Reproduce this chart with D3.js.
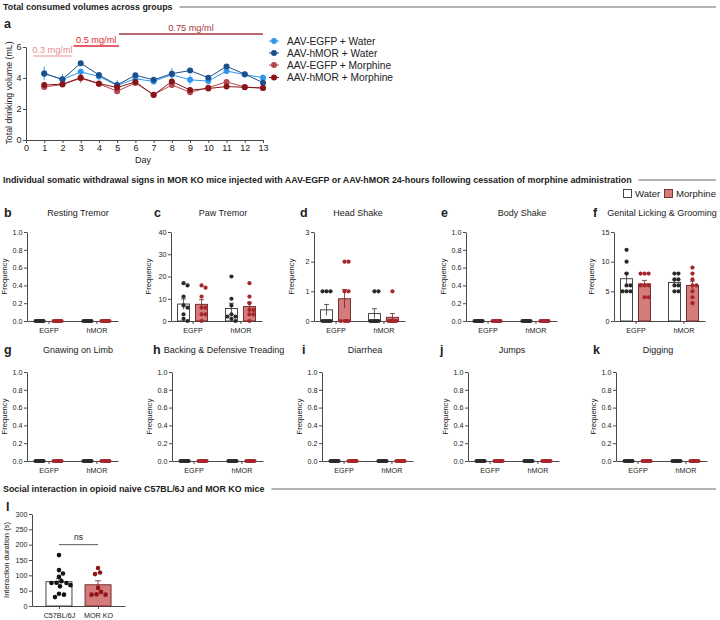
<!DOCTYPE html>
<html><head><meta charset="utf-8">
<script src="https://cdn.jsdelivr.net/npm/d3@7"></script>
<style>body{margin:0;background:#fff}svg{display:block}text{font-family:"Liberation Sans",Arial,sans-serif;fill:#222}</style>
</head><body><svg id="c" width="720" height="620"></svg>
<script>
// ---------- Panel a data ----------
const days = [1,2,3,4,5,6,7,8,9,10,11,12,13];
const dayTicks = [0,1,2,3,4,5,6,7,8,9,10,11,12,13];
const volTicks = [0,2,4,6];
const seriesNames = ["AAV-EGFP + Water","AAV-hMOR + Water","AAV-EGFP + Morphine","AAV-hMOR + Morphine"];
const seriesColors = ["#2f97f0","#1c4f8c","#b44a50","#8a1518"];
const egfpWater     = [4.30,3.90,4.40,4.10,3.52,3.95,3.78,4.22,3.88,3.80,4.45,4.22,4.02];
const egfpWaterSem  = [0.45,0.35,0.20,0.20,0.35,0.15,0.12,0.45,0.30,0.15,0.20,0.15,0.20];
const hmorWater     = [4.28,3.92,4.95,4.20,3.55,4.18,3.88,4.28,4.48,4.02,4.75,4.25,3.70];
const hmorWaterSem  = [0.20,0.20,0.15,0.15,0.20,0.10,0.10,0.20,0.15,0.10,0.15,0.12,0.12];
const egfpMorph     = [3.42,3.58,3.98,3.62,3.15,3.68,2.92,3.55,3.08,3.38,3.75,3.42,3.35];
const egfpMorphSem  = [0.15,0.10,0.30,0.10,0.10,0.10,0.12,0.15,0.12,0.10,0.10,0.10,0.08];
const hmorMorph     = [3.55,3.60,4.02,3.65,3.38,3.75,2.90,3.78,3.22,3.32,3.45,3.40,3.35];
const hmorMorphSem  = [0.20,0.10,0.20,0.10,0.10,0.10,0.15,0.12,0.12,0.10,0.10,0.10,0.08];
const doseLabels = ["0.3 mg/ml","0.5 mg/ml","0.75 mg/ml"];
const doseStart  = [0.4,2.6,5.1];
const doseEnd    = [2.5,5.1,13];
const doseColors = ["#e38e8e","#dc2a33","#a8363c"];
const doseLineColors = ["#f0b4b4","#dc2a33","#a8363c"];

// ---------- Withdrawal signs data ----------
const signTitles = ["Resting Tremor","Paw Tremor","Head Shake","Body Shake","Genital Licking & Grooming",
                    "Gnawing on Limb","Backing & Defensive Treading","Diarrhea","Jumps","Digging"];
const signLetters = ["b","c","d","e","f","g","h","i","j","k"];
const signYMax = [1,40,3,1,15,1,1,1,1,1];
const signTickStep = [0.2,10,1,0.2,5,0.2,0.2,0.2,0.2,0.2];
const groups = ["EGFP","hMOR"];
const treatments = ["Water","Morphine"];
const zeros8 = [0,0,0,0,0,0,0,0];
const pawEgfpWater = [16,17,11,7,6,3,0,1];
const pawEgfpMorph = [15,16,11,6,6,3,0,3];
const pawHmorWater = [20,10,7,3,2,0,2,1];
const pawHmorMorph = [17,11,8,5,5,3,3,0];
const headEgfpWater = [1,1,1,0,0,0,0,0];
const headEgfpMorph = [2,2,1,1,0,0,0,0];
const headHmorWater = [1,1,0,0,0,0,0,0];
const headHmorMorph = [1,0,0,0,0,0,0,0];
const genEgfpWater = [12,10,8,6,6,5,5,5];
const genEgfpMorph = [8,8,8,6,6,6,4,4];
const genHmorWater = [8,8,7,7,6,6,5,5];
const genHmorMorph = [9,8,7,6,6,5,4,3];

// ---------- Social interaction data ----------
const socialGroups = ["C57BL/6J","MOR KO"];
const socialC57 = [166,95,106,117,76,64,75,81,75,40,37,29,68];
const socialMorKO = [124,109,104,59,46,37,37,38];
const socialTicks = [0,50,100,150,200,250,300];

// ---------- helpers ----------
const svg = d3.select("#c");
const AX = "#4a4a4a";
function styleAxis(g, fs){
  g.selectAll("path.domain").attr("stroke",AX).attr("stroke-width",1);
  g.selectAll(".tick line").attr("stroke",AX).attr("stroke-width",1);
  g.selectAll(".tick text").attr("font-size",fs).attr("fill","#333").attr("font-family","Liberation Sans, Arial, sans-serif");
}
function sectionTitle(text, y){
  const t = svg.append("text").attr("x",3).attr("y",y+3).attr("font-weight","bold").attr("font-size",8.9).text(text);
  const w = t.node().getComputedTextLength();
  svg.append("line").attr("x1",3+w+7).attr("x2",716).attr("y1",y).attr("y2",y).attr("stroke","#555").attr("stroke-width",0.9);
}
function letter(l, x, y){
  svg.append("text").attr("x",x).attr("y",y).attr("font-weight","bold").attr("font-size",12.5).text(l);
}
function swarm(values, yScale, r, halfW){
  const order = values.map((v,i)=>i).sort((a,b)=>values[b]-values[a]);
  const placed = [], out = new Array(values.length);
  const cands = [];
  for(let o=0;o<=halfW+1e-9;o+=0.5){cands.push(o); if(o>0) cands.push(-o);}
  order.forEach(i=>{
    const py = yScale(values[i]);
    let pick = null, best=-1, bestO=0;
    for(const o of cands){
      let md = Infinity;
      for(const p of placed){const d=Math.hypot(p.x-o,p.y-py); if(d<md) md=d;}
      if(md>=2*r+0.3){pick=o;break;}
      if(md>best){best=md;bestO=o;}
    }
    if(pick===null) pick=bestO;
    placed.push({x:pick,y:py}); out[i]=pick;
  });
  return out;
}
function mean(a){return d3.mean(a);}
function sem(a){return a.length>1? d3.deviation(a)/Math.sqrt(a.length):0;}

// ---------- Section 1 ----------
sectionTitle("Total consumed volumes across groups", 7);
letter("a", 4, 28);
const ax = d3.scaleLinear().domain([0,13]).range([26,263]);
const ay = d3.scaleLinear().domain([0,6]).range([140,47]);
const gA = svg.append("g");
const gx = gA.append("g").attr("transform","translate(0,140)")
  .call(d3.axisBottom(ax).tickValues(dayTicks).tickFormat(d3.format("d")).tickSize(3).tickSizeOuter(0).tickPadding(1.5));
styleAxis(gx, 9);
const gy = gA.append("g").attr("transform","translate(26,0)")
  .call(d3.axisLeft(ay).tickValues(volTicks).tickFormat(d3.format("d")).tickSize(3).tickSizeOuter(0).tickPadding(1.5));
styleAxis(gy, 9);
gA.append("text").attr("x",143).attr("y",163).attr("text-anchor","middle").attr("font-size",9).text("Day");
gA.append("text").attr("transform","translate(12,93) rotate(-90)").attr("text-anchor","middle").attr("font-size",8.8).text("Total drinking volume (mL)");
// dose bars
const doseY = [56,46,34];
doseLabels.forEach((lab,i)=>{
  gA.append("line").attr("x1",ax(doseStart[i])).attr("x2",ax(doseEnd[i])).attr("y1",doseY[i]).attr("y2",doseY[i])
    .attr("stroke",doseLineColors[i]).attr("stroke-width",1.6);
  gA.append("text").attr("x",(ax(doseStart[i])+ax(doseEnd[i]))/2).attr("y",doseY[i]-3).attr("text-anchor","middle")
    .attr("font-size",9.2).style("fill",doseColors[i]).text(lab);
});
const seriesVals = [egfpWater,hmorWater,egfpMorph,hmorMorph];
const seriesSem = [egfpWaterSem,hmorWaterSem,egfpMorphSem,hmorMorphSem];
const line = d3.line().x((d,i)=>ax(days[i])).y(d=>ay(d));
seriesVals.forEach((vals,s)=>{
  const col = seriesColors[s];
  const g = gA.append("g");
  g.selectAll("line.err").data(vals).join("line")
    .attr("x1",(d,i)=>ax(days[i])).attr("x2",(d,i)=>ax(days[i]))
    .attr("y1",(d,i)=>ay(d-seriesSem[s][i])).attr("y2",(d,i)=>ay(d+seriesSem[s][i]))
    .attr("stroke",col).attr("stroke-width",0.9);
  g.append("path").datum(vals).attr("d",line).attr("fill","none").attr("stroke",col).attr("stroke-width",1);
  g.selectAll("circle").data(vals).join("circle").attr("cx",(d,i)=>ax(days[i])).attr("cy",d=>ay(d)).attr("r",3).attr("fill",col);
});
// legend
const legY = [41,53,65,77.5];
seriesNames.forEach((n,i)=>{
  gA.append("line").attr("x1",269).attr("x2",279).attr("y1",legY[i]).attr("y2",legY[i]).attr("stroke",seriesColors[i]).attr("stroke-width",1);
  gA.append("circle").attr("cx",274).attr("cy",legY[i]).attr("r",3).attr("fill",seriesColors[i]);
  gA.append("text").attr("x",287).attr("y",legY[i]+3.5).attr("font-size",10.2).text(n);
});

// ---------- Section 2 ----------
sectionTitle("Individual somatic withdrawal signs in MOR KO mice injected with AAV-EGFP or AAV-hMOR 24-hours following cessation of morphine administration", 180);
const WATER_FILL="#ffffff", WATER_STROKE="#333", MORPH_FILL="#d47b7c", MORPH_STROKE="#6e2426";
const WATER_DOT="#2a2a2a", MORPH_DOT="#a6262b";
// treatment legend
svg.append("rect").attr("x",623.5).attr("y",189.5).attr("width",8).attr("height",8).attr("fill",WATER_FILL).attr("stroke",WATER_STROKE).attr("stroke-width",0.9);
svg.append("text").attr("x",635).attr("y",197).attr("font-size",9.6).text("Water");
svg.append("rect").attr("x",664.5).attr("y",189.5).attr("width",8).attr("height",8).attr("fill",MORPH_FILL).attr("stroke",MORPH_STROKE).attr("stroke-width",0.9);
svg.append("text").attr("x",676).attr("y",197).attr("font-size",9.6).text("Morphine");

const signData = [
  [zeros8,zeros8,zeros8,zeros8],
  [pawEgfpWater,pawEgfpMorph,pawHmorWater,pawHmorMorph],
  [headEgfpWater,headEgfpMorph,headHmorWater,headHmorMorph],
  [zeros8,zeros8,zeros8,zeros8],
  [genEgfpWater,genEgfpMorph,genHmorWater,genHmorMorph],
  [zeros8,zeros8,zeros8,zeros8],
  [zeros8,zeros8,zeros8,zeros8],
  [zeros8,zeros8,zeros8,zeros8],
  [zeros8,zeros8,zeros8,zeros8],
  [zeros8,zeros8,zeros8,zeros8]
];
const axisXs = [27,171,314,466,614,27,172,322,468,616];
const letterXs = [4,154,300,441,593,4,153,302,440,593];
const rowTop = [232,372], rowBot = [321,461], rowTitleY = [215.5,352.5];
const titleXs = [78,223,358,522,662,78,224,365,512,658];

signTitles.forEach((title,k)=>{
  const row = k<5?0:1;
  const x0 = axisXs[k], top=rowTop[row], bot=rowBot[row];
  const g = svg.append("g");
  letter(signLetters[k], letterXs[k], rowTitleY[row]+1);
  g.append("text").attr("x",titleXs[k]).attr("y",rowTitleY[row]).attr("text-anchor","middle").attr("font-size",9.0).text(title);
  const y = d3.scaleLinear().domain([0,signYMax[k]]).range([bot,top]);
  const x = d3.scalePoint().domain(groups).range([x0,x0+91]).padding(0.45);
  const sub = d3.scalePoint().domain(treatments).range([-9,9]);
  const ticks = d3.range(0, signYMax[k]+1e-9, signTickStep[k]);
  const fmt = signYMax[k]<=1 ? d3.format(".1f") : d3.format("d");
  const gyy = g.append("g").attr("transform",`translate(${x0},0)`)
    .call(d3.axisLeft(y).tickValues(ticks).tickFormat(fmt).tickSize(3).tickSizeOuter(0).tickPadding(1.5));
  styleAxis(gyy,7.2);
  const gxx = g.append("g").attr("transform",`translate(0,${bot})`)
    .call(d3.axisBottom(x).tickSize(3).tickSizeOuter(0).tickPadding(4));
  styleAxis(gxx,7.2);
  g.append("text").attr("transform",`translate(${x0-20},${(top+bot)/2}) rotate(-90)`).attr("text-anchor","middle").attr("font-size",7.6).text("Frequency");
  const sets = signData[k];
  groups.forEach((gr,gi)=>{
    treatments.forEach((tr,ti)=>{
      const vals = sets[gi*2+ti];
      const cx = x(gr)+sub(tr);
      const m = mean(vals), s = sem(vals);
      g.append("rect").attr("x",cx-6).attr("width",12).attr("y",y(m)).attr("height",bot-y(m))
        .attr("fill",ti===0?WATER_FILL:MORPH_FILL).attr("stroke",ti===0?WATER_STROKE:MORPH_STROKE).attr("stroke-width",0.9);
      if(s>0){
        const ec = ti===0?WATER_STROKE:MORPH_STROKE;
        g.append("line").attr("x1",cx).attr("x2",cx).attr("y1",y(Math.max(0,m-s))).attr("y2",y(m+s)).attr("stroke",ec).attr("stroke-width",0.8);
        g.append("line").attr("x1",cx-2.5).attr("x2",cx+2.5).attr("y1",y(m+s)).attr("y2",y(m+s)).attr("stroke",ec).attr("stroke-width",0.8);
      }
      const offs = swarm(vals,y,2,4);
      g.selectAll(null).data(vals).join("circle").attr("cx",(d,i)=>cx+offs[i]).attr("cy",d=>y(d)).attr("r",2.1)
        .attr("fill",ti===0?WATER_DOT:MORPH_DOT);
    });
  });
});

// ---------- Section 3 ----------
sectionTitle("Social interaction in opioid naive C57BL/6J and MOR KO mice", 489);
letter("l", 6, 511);
(function(){
  const x0=32, top=514, bot=606;
  const g = svg.append("g");
  const y = d3.scaleLinear().domain([0,300]).range([bot,top]);
  const x = d3.scalePoint().domain(socialGroups).range([x0,x0+93]).padding(0.69);
  const gyy = g.append("g").attr("transform",`translate(${x0},0)`)
    .call(d3.axisLeft(y).tickValues(socialTicks).tickFormat(d3.format("d")).tickSize(3).tickSizeOuter(0).tickPadding(1.5));
  styleAxis(gyy,7.2);
  const gxx = g.append("g").attr("transform",`translate(0,${bot})`)
    .call(d3.axisBottom(x).tickSize(3).tickSizeOuter(0).tickPadding(4));
  styleAxis(gxx,7.2);
  g.append("text").attr("transform",`translate(${x0-23},${(top+bot)/2}) rotate(-90)`).attr("text-anchor","middle").attr("font-size",7.6).text("Interaction duration (s)");
  const sets=[socialC57,socialMorKO];
  socialGroups.forEach((gr,gi)=>{
    const vals=sets[gi], cx=x(gr), m=mean(vals), s=sem(vals);
    g.append("rect").attr("x",cx-13).attr("width",26).attr("y",y(m)).attr("height",bot-y(m))
      .attr("fill",gi===0?WATER_FILL:MORPH_FILL).attr("stroke",gi===0?WATER_STROKE:MORPH_STROKE).attr("stroke-width",0.9);
    const ec = gi===0?WATER_STROKE:MORPH_STROKE;
    g.append("line").attr("x1",cx).attr("x2",cx).attr("y1",y(m-s)).attr("y2",y(m+s)).attr("stroke",ec).attr("stroke-width",0.8);
    g.append("line").attr("x1",cx-3).attr("x2",cx+3).attr("y1",y(m+s)).attr("y2",y(m+s)).attr("stroke",ec).attr("stroke-width",0.8);
    const offs = swarm(vals,y,2.3,11.5);
    g.selectAll(null).data(vals).join("circle").attr("cx",(d,i)=>cx+offs[i]).attr("cy",d=>y(d)).attr("r",2.3)
      .attr("fill",gi===0?"#111":"#8e1519");
  });
  g.append("line").attr("x1",x(socialGroups[0])).attr("x2",x(socialGroups[1])).attr("y1",y(200)).attr("y2",y(200)).attr("stroke","#444").attr("stroke-width",0.9);
  g.append("text").attr("x",(x(socialGroups[0])+x(socialGroups[1]))/2).attr("y",y(200)-5).attr("text-anchor","middle").attr("font-size",8.5).text("ns");
})();
</script></body></html>
